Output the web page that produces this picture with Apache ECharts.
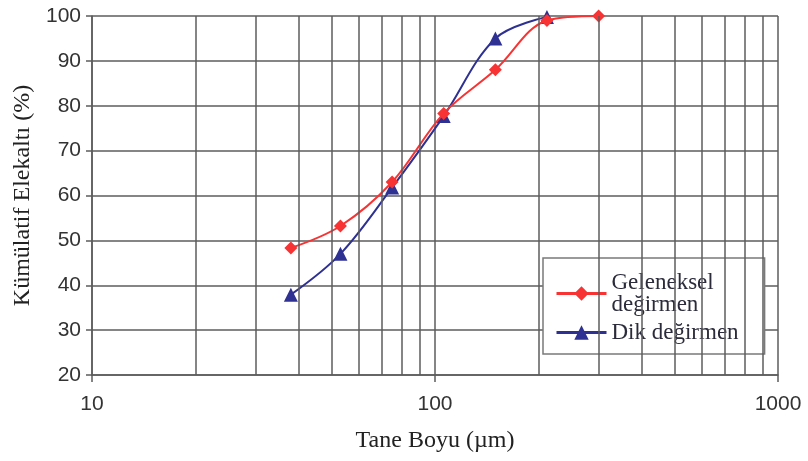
<!DOCTYPE html>
<html>
<head>
<meta charset="utf-8">
<script src="https://cdn.jsdelivr.net/npm/echarts@6/dist/echarts.min.js"></script>
<style>
  html, body { margin: 0; padding: 0; background: #fff; }
  #chart { width: 808px; height: 461px; }
</style>
</head>
<body>
<div id="chart"></div>
<script>
// sieve sizes (µm) and cumulative passing (%)
var sizes = [38, 53, 75, 106, 150, 212, 300];
var geleneksel = [48.3, 53.2, 63, 78.3, 88, 99, 100];
var dikSizes = [38, 53, 75, 106, 150, 212];
var dik = [37.9, 47, 61.8, 77.7, 95, 99.8];
// minor vertical grid lines on the log axis
var minorLines = [20, 30, 40, 50, 60, 70, 80, 90, 200, 300, 400, 500, 600, 700, 800, 900];

var gridColor = '#5c5c5c';
var serif = '"Liberation Serif", "DejaVu Serif", serif';
var sans = '"Liberation Sans", Arial, sans-serif';

function pairs(xs, ys) {
  return xs.map(function (x, i) { return [x, ys[i]]; });
}

var chart = echarts.init(document.getElementById('chart'), null, {renderer: 'canvas'});
var option = {
  animation: false,
  grid: {left: 92, right: 30, top: 16, bottom: 86},
  legend: {
    orient: 'vertical',
    left: 543,
    top: 258,
    padding: [13, 26, 10, 12],
    itemGap: 5,
    itemWidth: 50,
    itemHeight: 18,
    backgroundColor: '#fff',
    borderColor: '#7a7a7a',
    borderWidth: 1.5,
    lineStyle: {width: 3},
    textStyle: {fontFamily: serif, fontSize: 23, color: '#2b2b3b', lineHeight: 22},
    formatter: function (name) {
      return name === 'Geleneksel değirmen' ? 'Geleneksel\ndeğirmen' : name;
    },
    data: ['Geleneksel değirmen', 'Dik değirmen']
  },
  xAxis: {
    type: 'log',
    logBase: 10,
    min: 10,
    max: 1000,
    name: 'Tane Boyu (µm)',
    nameLocation: 'middle',
    nameGap: 54,
    nameTextStyle: {fontFamily: serif, fontSize: 24, color: '#222'},
    axisLine: {show: true, lineStyle: {color: gridColor, width: 1.5}},
    axisTick: {show: true, length: 7, lineStyle: {color: gridColor, width: 1.5}},
    axisLabel: {
      fontFamily: sans, fontSize: 21, color: '#333', margin: 19,
      formatter: function (v) { return String(Math.round(v)); }
    },
    splitLine: {show: true, lineStyle: {color: gridColor, width: 1.5}}
  },
  yAxis: {
    type: 'value',
    min: 20,
    max: 100,
    interval: 10,
    name: 'Kümülatif Elekaltı (%)',
    nameLocation: 'middle',
    nameGap: 56,
    nameTextStyle: {fontFamily: serif, fontSize: 24, color: '#222'},
    axisLine: {show: true, lineStyle: {color: gridColor, width: 1.5}},
    axisTick: {show: true, length: 6, lineStyle: {color: gridColor, width: 1.5}},
    axisLabel: {fontFamily: sans, fontSize: 21, color: '#333', margin: 11},
    splitLine: {show: true, lineStyle: {color: gridColor, width: 1.5}}
  },
  series: [
    {
      name: 'grid',
      type: 'line',
      data: [],
      silent: true,
      markLine: {
        silent: true,
        symbol: 'none',
        label: {show: false},
        lineStyle: {color: gridColor, width: 1.5, type: 'solid'},
        data: minorLines.map(function (v) { return {xAxis: v}; })
      }
    },
    {
      name: 'Geleneksel değirmen',
      type: 'line',
      smooth: 0.35,
      data: pairs(sizes, geleneksel),
      symbol: 'diamond',
      symbolSize: 13,
      color: '#f73333',
      lineStyle: {width: 2, color: '#f73333'},
      z: 4
    },
    {
      name: 'Dik değirmen',
      type: 'line',
      smooth: 0.35,
      data: pairs(dikSizes, dik),
      symbol: 'triangle',
      symbolSize: 14,
      color: '#2e3192',
      lineStyle: {width: 2, color: '#2e3192'},
      z: 3
    }
  ]
};
chart.setOption(option);
</script>
</body>
</html>
